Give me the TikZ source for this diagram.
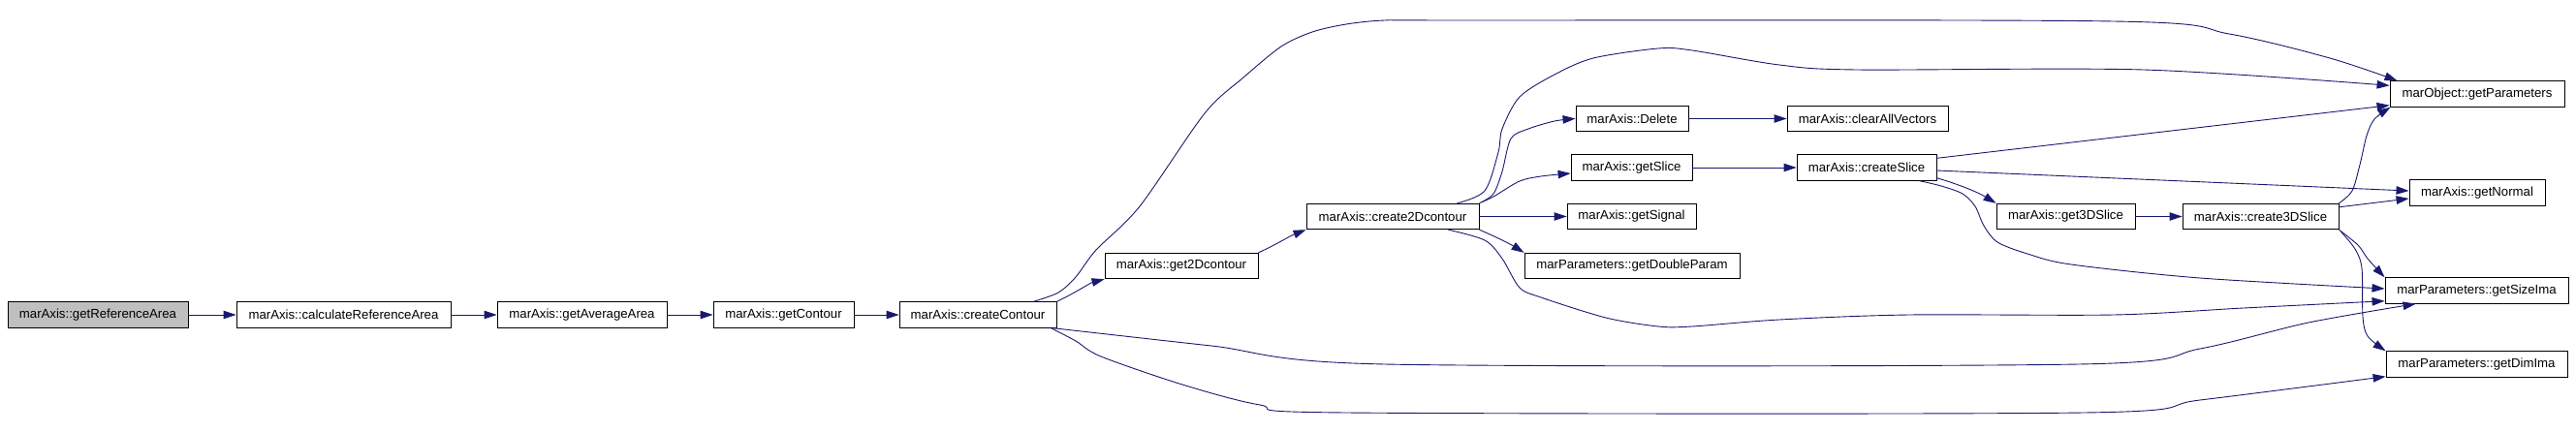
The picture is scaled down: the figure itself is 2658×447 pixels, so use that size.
\documentclass[tikz,border=0pt]{standalone}
\usepackage{fontspec}
\setmainfont{Liberation Sans}
\usetikzlibrary{arrows.meta}
\definecolor{edgecol}{HTML}{191970}
\definecolor{rootfill}{HTML}{BFBFBF}
\tikzset{
  fnbox/.style={draw=black, line width=0.9pt, minimum height=26.5pt, inner sep=0pt,
    font=\fontsize{13.2}{15}\selectfont, anchor=center},
  edge/.style={draw=edgecol, line width=0.9pt, -{Triangle[length=13pt,width=8.5pt]}},
}
\begin{document}
\begin{tikzpicture}[x=1pt,y=-1pt]
\useasboundingbox (0,0) rectangle (2658,447);
% nodes
\node[fnbox, fill=rootfill, minimum width=186pt] (gra) at (101,325) {marAxis::getReferenceArea};
\node[fnbox, minimum width=221pt] (cra) at (354.5,325) {marAxis::calculateReferenceArea};
\node[fnbox, minimum width=175pt] (gaa) at (600.5,325) {marAxis::getAverageArea};
\node[fnbox, minimum width=145pt] (gc) at (808.5,325) {marAxis::getContour};
\node[fnbox, minimum width=162pt] (cc) at (1009,325) {marAxis::createContour};
\node[fnbox, minimum width=158pt] (g2d) at (1219,274.5) {marAxis::get2Dcontour};
\node[fnbox, minimum width=178pt] (c2d) at (1437,223.5) {marAxis::create2Dcontour};
\node[fnbox, minimum width=116pt] (del) at (1684,122.5) {marAxis::Delete};
\node[fnbox, minimum width=166pt] (cav) at (1927,122.5) {marAxis::clearAllVectors};
\node[fnbox, minimum width=125pt] (gsl) at (1683.5,173) {marAxis::getSlice};
\node[fnbox, minimum width=144pt] (csl) at (1926,173) {marAxis::createSlice};
\node[fnbox, minimum width=133pt] (gsig) at (1683.5,223.5) {marAxis::getSignal};
\node[fnbox, minimum width=222pt] (gdp) at (1684,274.5) {marParameters::getDoubleParam};
\node[fnbox, minimum width=180pt] (gpar) at (2556,97) {marObject::getParameters};
\node[fnbox, minimum width=140pt] (gnorm) at (2556,199) {marAxis::getNormal};
\node[fnbox, minimum width=143pt] (g3d) at (2131.5,223.5) {marAxis::get3DSlice};
\node[fnbox, minimum width=161pt] (c3d) at (2332.5,223.5) {marAxis::create3DSlice};
\node[fnbox, minimum width=189pt] (gsize) at (2555.5,300) {marParameters::getSizeIma};
\node[fnbox, minimum width=187pt] (gdim) at (2555.5,376) {marParameters::getDimIma};
% straight edges
\draw[edge] (gra) -- (cra);
\draw[edge] (cra) -- (gaa);
\draw[edge] (gaa) -- (gc);
\draw[edge] (gc) -- (cc);
\draw[edge] (c2d) -- (gsig);
\draw[edge] (del) -- (cav);
\draw[edge] (gsl) -- (csl);
\draw[edge] (g3d) -- (c3d);
\draw[edge] ([yshift=-4pt]csl.north east) -- ([yshift=2pt]gpar.south west);
\draw[edge] ([yshift=-3pt]csl.east) -- ([yshift=2pt]gnorm.west);
\draw[edge] ([yshift=-4pt]c3d.north east) -- ([yshift=-6pt]gnorm.west);
% short curves
\draw[edge] (cc.north east) .. controls (1110,302) and (1125,292) .. (g2d.south west);
\draw[edge] (g2d.north east) .. controls (1318,252) and (1330,244) .. (c2d.south west);
\draw[edge] (c2d.south east) .. controls (1545,245) and (1560,253) .. (gdp.north west);
\draw[edge] ([yshift=3pt]csl.south east) .. controls (2020,190) and (2040,198) .. (g3d.north west);
% long curves
\draw[edge] plot[smooth, tension=0.5] coordinates {([xshift=-24pt]cc.north east) (1092,302) (1110,286) (1131,258) (1176,213) (1243,117) (1283,80) (1322,48) (1354,33) (1389,25) (1429,21) (1500,21) (2181,22) (2300,35) (2404,60) ([xshift=8pt]gpar.north west)};
\draw[edge] plot[smooth, tension=0.5] coordinates {([xshift=-4pt]cc.south east) (1250,357) (1429,376) (2145,376) (2270,360) (2382,333) ([xshift=32pt]gsize.south west)};
\draw[edge] plot[smooth, tension=0.5] coordinates {([xshift=-6pt]cc.south east) (1110,352) (1136,368) (1220,397) (1300,418) (1389,426) (2150,426) (2270,413) ([yshift=1pt]gdim.south west)};
\draw[edge] plot[smooth, tension=0.5] coordinates {([xshift=-23pt]c2d.north east) (1532,197) (1546,157) (1550,133) (1568,100) (1604,77) (1644,60) (1711,50) (1746,52) (1836,67) (1916,72) (2212,72) ([yshift=-5pt]gpar.north west)};
\draw[edge] plot[smooth, tension=0.5] coordinates {(c2d.north east) (1541,200) (1550,177) (1559,143) (1577,133) (1604,125) (del.west)};
\draw[edge] plot[smooth, tension=0.5] coordinates {([xshift=2pt,yshift=1pt]c2d.north east) (1541,203) (1568,187) (1590,182) ([yshift=-6pt]gsl.west)};
\draw[edge] plot[smooth, tension=0.5] coordinates {([xshift=-32pt]c2d.south east) (1532,248) (1550,267) (1568,297) (1590,307) (1657,328) (1711,337) (1746,337) (1836,330) (1970,325) (2181,325) (2315,318) ([yshift=3pt]gsize.south west)};
\draw[edge] plot[smooth, tension=0.5] coordinates {([xshift=-18pt]csl.south east) (2003,192) (2025,200) (2038,213) (2047,233) (2061,250) (2092,262) (2137,273) (2270,287) ([yshift=2pt]gsize.west)};
\draw[edge] plot[smooth, tension=0.5] coordinates {(c3d.north east) (2427,197) (2435,170) (2442,140) (2450,123) ([xshift=1pt]gpar.south west)};
\draw[edge] plot[smooth, tension=0.5] coordinates {(c3d.south east) (2433,253) (2443,267) (gsize.north west)};
\draw[edge] plot[smooth, tension=0.5] coordinates {([xshift=2pt,yshift=-2pt]c3d.south east) (2430,257) (2437,277) (2438,327) (2443,347) (gdim.north west)};
\end{tikzpicture}
\end{document}
